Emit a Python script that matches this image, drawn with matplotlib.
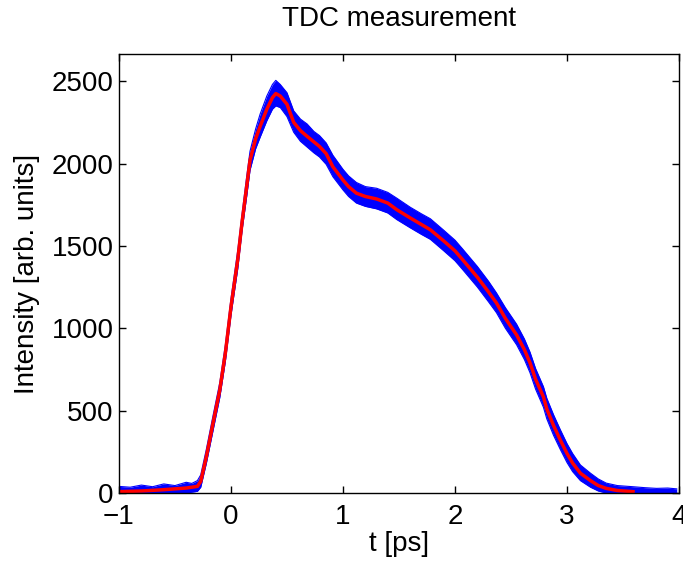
"""
TDC measurement: single-shot traces (blue band) and their average (red).
Saved as out.png
"""
import numpy as np
import matplotlib
matplotlib.use("Agg")
import matplotlib.pyplot as plt

plt.rcParams["font.family"] = ["Liberation Sans", "DejaVu Sans"]

# ── Data ───────────────────────────────────────────────────────────────────
# time grid of the blue band [ps]
T_BAND = [-1.0, -0.9, -0.8, -0.7, -0.6, -0.5, -0.4, -0.35, -0.3, -0.27,
          -0.22, -0.16, -0.10, -0.05, 0.0, 0.06, 0.10, 0.14, 0.17, 0.22,
          0.26, 0.32, 0.37, 0.40, 0.44, 0.50, 0.56, 0.62, 0.68, 0.74,
          0.79, 0.85, 0.91, 1.0, 1.05, 1.12, 1.2, 1.3, 1.4, 1.48,
          1.6, 1.7, 1.78, 1.9, 2.0, 2.07, 2.2, 2.3, 2.37, 2.45,
          2.55, 2.62, 2.67, 2.72, 2.79, 2.82, 2.88, 2.94, 3.0, 3.05,
          3.12, 3.21, 3.28, 3.35, 3.45, 3.59, 3.7, 3.8, 3.9, 3.98]

# upper / lower envelope of the individual traces
BAND_HI = [40, 35, 48, 38, 55, 45, 65, 58, 75, 110,
           265, 470, 670, 900, 1180, 1470, 1700, 1920, 2075, 2210,
           2300, 2410, 2480, 2505, 2480, 2430, 2320, 2270, 2240, 2195,
           2170, 2125, 2050, 1965, 1925, 1885, 1860, 1850, 1825, 1790,
           1735, 1695, 1665, 1595, 1535, 1480, 1375, 1285, 1215, 1125,
           1025, 935, 855, 755, 645, 575, 475, 385, 300, 240,
           170, 120, 85, 60, 45, 38, 32, 28, 30, 25]
BAND_LO = [0, 0, 0, 0, 0, 0, 0, 5, 10, 35,
           180, 380, 580, 800, 1080, 1360, 1600, 1800, 1960, 2090,
           2160, 2260, 2330, 2350, 2340, 2285, 2190, 2135, 2100, 2065,
           2040, 1995, 1920, 1840, 1800, 1760, 1740, 1725, 1700, 1660,
           1610, 1570, 1540, 1470, 1410, 1355, 1250, 1160, 1095, 1000,
           900, 810, 730, 630, 520, 450, 350, 265, 185, 130,
           75, 35, 12, 0, 0, 0, 0, 0, 0, 0]

# averaged trace
T_MEAN = [-1.0, -0.8, -0.6, -0.4, -0.3, -0.27, -0.22, -0.16, -0.10, -0.05,
          0.0, 0.06, 0.10, 0.14, 0.17, 0.22, 0.26, 0.32, 0.37, 0.40,
          0.44, 0.50, 0.56, 0.62, 0.68, 0.79, 0.85, 0.91, 1.0, 1.05,
          1.12, 1.2, 1.3, 1.4, 1.48, 1.6, 1.7, 1.78, 1.9, 2.0,
          2.07, 2.2, 2.3, 2.37, 2.45, 2.55, 2.62, 2.67, 2.72, 2.79,
          2.82, 2.88, 2.94, 3.0, 3.05, 3.12, 3.21, 3.28, 3.35, 3.45, 3.59]
I_MEAN = [8, 12, 20, 30, 40, 70, 220, 425, 625, 850,
          1130, 1415, 1650, 1860, 2020, 2150, 2225, 2330, 2400, 2425,
          2410, 2360, 2250, 2200, 2165, 2104, 2060, 1980, 1900, 1860,
          1820, 1800, 1785, 1760, 1720, 1670, 1630, 1598, 1530, 1470,
          1415, 1310, 1220, 1154, 1060, 960, 870, 790, 690, 583,
          510, 410, 322, 240, 182, 120, 75, 45, 28, 15, 8]

# ── Figure ────────────────────────────────────────────────────────────────
fig = plt.figure(figsize=(6.83, 5.62), dpi=100, facecolor="white")
ax = fig.add_axes([0.1742, 0.1228, 0.8199, 0.7811])

ax.fill_between(T_BAND, BAND_LO, BAND_HI, color="#0000ff", linewidth=0)
ax.plot(T_BAND, BAND_HI, color="#0000ff", linewidth=0.8)
ax.plot(T_BAND, BAND_LO, color="#0000ff", linewidth=0.8)
ax.plot(T_MEAN, I_MEAN, color="#ff0000", linewidth=2.5)

ax.set_xlim(-1, 4)
ax.set_ylim(0, 2665)
ax.set_xticks([-1, 0, 1, 2, 3, 4])
ax.set_yticks([0, 500, 1000, 1500, 2000, 2500])

ax.tick_params(direction="in", top=True, right=True, length=5, width=1,
               labelsize=20, pad=4)
ax.tick_params(axis="x", pad=8)
for spine in ax.spines.values():
    spine.set_linewidth(1.0)

ax.set_title("TDC measurement", fontsize=20, pad=20)
ax.set_xlabel("t [ps]", fontsize=20, labelpad=1)
ax.set_ylabel("Intensity [arb. units]", fontsize=20, labelpad=8)

fig.savefig("out.png", dpi=100, facecolor="white")
plt.close(fig)
